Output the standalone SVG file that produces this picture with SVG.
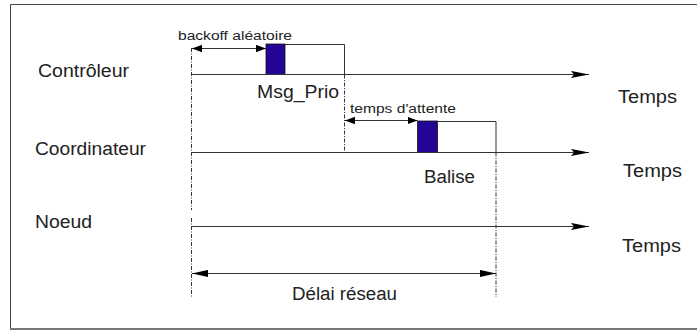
<svg xmlns="http://www.w3.org/2000/svg" width="697" height="332" viewBox="0 0 697 332">
<defs>
<style>
.t{font-family:"Liberation Sans",Arial,sans-serif;fill:#222;}
.big{font-size:18px;}
.sm{font-size:12px;}
.ln{stroke:#333;stroke-width:1;fill:none;}
.dash{stroke:#333;stroke-width:1;fill:none;stroke-dasharray:4,1.5,1,1.5;}
.box{fill:#230496;stroke:#111;stroke-width:0.8;}
</style>
<marker id="ah" markerUnits="userSpaceOnUse" viewBox="0 0 18 8" markerWidth="18" markerHeight="8" refX="18" refY="4" orient="auto-start-reverse">
<path d="M0,0.4 L18,4 L0,7.6 L3,4 z" fill="#000"/>
</marker>
<marker id="ad" markerUnits="userSpaceOnUse" viewBox="0 0 16 8" markerWidth="16" markerHeight="8" refX="16" refY="4" orient="auto-start-reverse">
<path d="M0,0.4 L16,4 L0,7.6 z" fill="#000"/>
</marker>
<marker id="as" markerUnits="userSpaceOnUse" viewBox="0 0 10 8" markerWidth="10" markerHeight="8" refX="10" refY="4" orient="auto-start-reverse">
<path d="M0,0.3 L10,4 L0,7.7 z" fill="#000"/>
</marker>
</defs>
<rect width="697" height="332" fill="#fff"/>
<g id="frame">
<path d="M10.5,330 L10.5,4.5 L697,4.5" fill="none" stroke="#444" stroke-width="1"/>
<path d="M10,329 L697,329" stroke="#777" stroke-width="2"/>
</g>
<g id="controleur">
<text class="t big" x="38" y="77" textLength="91" lengthAdjust="spacingAndGlyphs">Contrôleur</text>
<text class="t big" x="618" y="103" textLength="59" lengthAdjust="spacingAndGlyphs">Temps</text>
</g>
<g id="msg_prio">
<rect class="box" x="266" y="44" width="19" height="30.5"/>
<text class="t big" x="257" y="97.5" textLength="82" lengthAdjust="spacingAndGlyphs">Msg_Prio</text>
</g>
<g id="coordinateur">
<text class="t big" x="35" y="155" textLength="111" lengthAdjust="spacingAndGlyphs">Coordinateur</text>
<text class="t big" x="623" y="177" textLength="59" lengthAdjust="spacingAndGlyphs">Temps</text>
</g>
<g id="balise">
<rect class="box" x="417.5" y="121" width="20" height="31.5"/>
<text class="t big" x="424" y="183" textLength="51" lengthAdjust="spacingAndGlyphs">Balise</text>
</g>
<g id="noeud">
<text class="t big" x="35" y="228" textLength="57" lengthAdjust="spacingAndGlyphs">Noeud</text>
<text class="t big" x="622" y="252" textLength="59" lengthAdjust="spacingAndGlyphs">Temps</text>
</g>
<g id="labels">
<text class="t sm" x="178" y="40" textLength="114" lengthAdjust="spacingAndGlyphs">backoff aléatoire</text>
<text class="t sm" x="350" y="113" textLength="106" lengthAdjust="spacingAndGlyphs">temps d'attente</text>
<text class="t big" x="292" y="300" textLength="105" lengthAdjust="spacingAndGlyphs">Délai réseau</text>
</g>
<g id="connectors">
<line class="ln" x1="192" y1="74.5" x2="589" y2="74.5" marker-end="url(#ah)"/>
<line class="ln" x1="192" y1="152.5" x2="589" y2="152.5" marker-end="url(#ah)"/>
<line class="ln" x1="192" y1="226.5" x2="589" y2="226.5" marker-end="url(#ah)"/>
<line class="ln" x1="192" y1="273.5" x2="496" y2="273.5" marker-start="url(#ad)" marker-end="url(#ad)"/>
<line class="ln" x1="192" y1="48.5" x2="266" y2="48.5" marker-start="url(#as)" marker-end="url(#as)"/>
<line class="ln" x1="345" y1="120.5" x2="417.5" y2="120.5" marker-start="url(#as)" marker-end="url(#as)"/>
<path class="ln" d="M285,44.5 L344.5,44.5 L344.5,74.5"/>
<path class="ln" d="M437.5,121.5 L496,121.5 L496,152.5"/>
<line class="dash" x1="191.5" y1="48" x2="191.5" y2="210"/>
<line class="dash" x1="191.5" y1="218" x2="191.5" y2="297"/>
<line class="dash" x1="344.5" y1="74.5" x2="344.5" y2="153"/>
<line class="dash" x1="496" y1="152.5" x2="496" y2="297"/>
</g>
</svg>
